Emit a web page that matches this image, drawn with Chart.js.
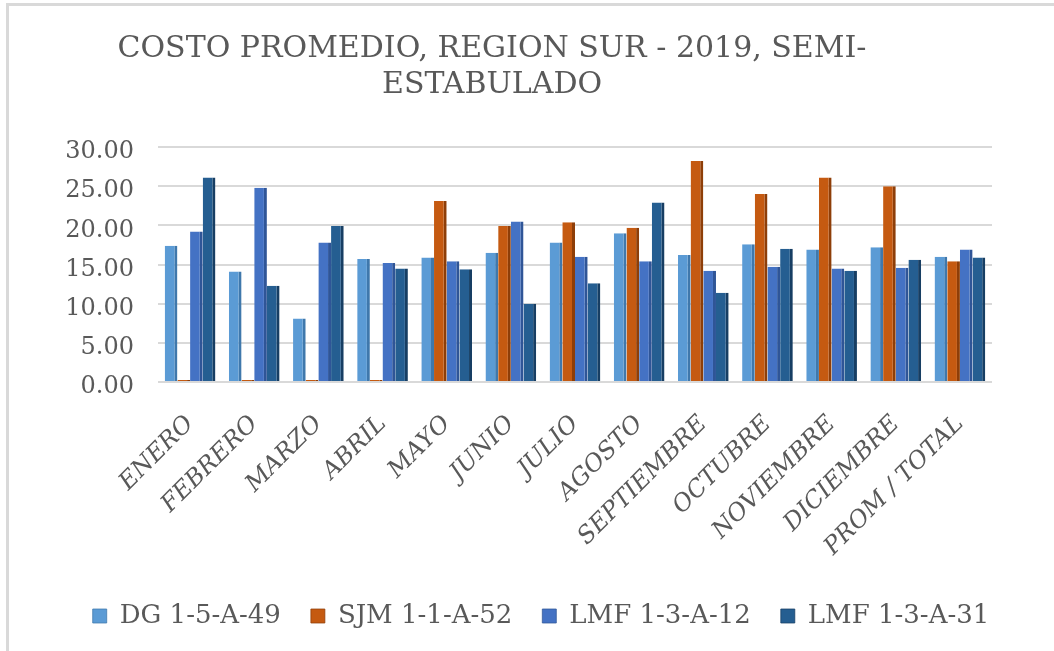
<!DOCTYPE html>
<html>
<head>
<meta charset="utf-8">
<script src="https://cdn.jsdelivr.net/npm/chart.js@4/dist/chart.umd.min.js"></script>
<style>
  html, body { margin: 0; padding: 0; background: #ffffff; }
  #wrap { position: relative; width: 1054px; height: 651px; overflow: hidden; }
  #frameL { position: absolute; left: 6px; top: 3px; width: 3px; height: 648px; background: #d9d9d9; }
  #frameT { position: absolute; left: 6px; top: 3px; width: 1048px; height: 3px; background: #d9d9d9; }
  canvas { position: absolute; left: 0; top: 0; }
</style>
</head>
<body>
<div id="wrap">
  <canvas id="c" width="1054" height="651"></canvas>
  <div id="frameL"></div>
  <div id="frameT"></div>
</div>
<script>
const titleLines = ["COSTO PROMEDIO, REGION SUR - 2019, SEMI-", "ESTABULADO"];
const categories = ["ENERO", "FEBRERO", "MARZO", "ABRIL", "MAYO", "JUNIO", "JULIO",
  "AGOSTO", "SEPTIEMBRE", "OCTUBRE", "NOVIEMBRE", "DICIEMBRE", "PROM / TOTAL"];
const seriesNames = ["DG 1-5-A-49", "SJM 1-1-A-52", "LMF 1-3-A-12", "LMF 1-3-A-31"];
const dg_1_5_A_49  = [17.4, 14.1, 8.1, 15.7, 15.9, 16.5, 17.8, 19.0, 16.2, 17.6, 16.9, 17.2, 16.0];
const sjm_1_1_A_52 = [0, 0, 0, 0, 23.1, 19.9, 20.4, 19.7, 28.2, 24.0, 26.1, 25.0, 15.4];
const lmf_1_3_A_12 = [19.2, 24.8, 17.8, 15.2, 15.4, 20.5, 16.0, 15.4, 14.2, 14.7, 14.5, 14.6, 16.9];
const lmf_1_3_A_31 = [26.1, 12.3, 19.9, 14.5, 14.4, 10.0, 12.6, 22.9, 11.4, 17.0, 14.2, 15.6, 15.9];
const yTicks = [0, 5, 10, 15, 20, 25, 30];

const fills = ["#5B9BD5", "#C55A11", "#4472C4", "#255E91"];
const sides = ["#3F78AC", "#8E3E08", "#2F5597", "#173E63"];
const seriesValues = [dg_1_5_A_49, sjm_1_1_A_52, lmf_1_3_A_12, lmf_1_3_A_31];

const textGray = "#595959";
const serif = "'DejaVu Serif', 'Liberation Serif', serif";

const shiftBlocks = {
  id: 'shiftBlocks',
  afterLayout(chart) {
    if (chart.titleBlock) { chart.titleBlock.right = chart.titleBlock.right - 18; }
    if (chart.legend) {
      chart.legend.left = chart.legend.left + 40;
      chart.legend.right = chart.legend.right + 40;
    }
  }
};

new Chart(document.getElementById('c'), {
  type: 'bar',
  data: {
    labels: categories,
    datasets: seriesNames.map((name, i) => ({
      label: name,
      data: seriesValues[i],
      backgroundColor: fills[i],
      borderColor: sides[i],
      borderWidth: { top: 0, left: 0, bottom: 0, right: 3 },
      borderSkipped: false,
      minBarLength: i === 1 ? 2 : 0,
      barPercentage: 1.0,
      categoryPercentage: 0.79
    }))
  },
  plugins: [shiftBlocks],
  options: {
    responsive: false,
    animation: false,
    devicePixelRatio: 1,
    layout: { padding: { left: 10, right: 62, top: 12, bottom: 12 } },
    plugins: {
      title: {
        display: true,
        text: titleLines,
        color: textGray,
        font: { family: serif, size: 30, weight: 'normal', lineHeight: 1.2 },
        padding: { top: 19, bottom: 44 }
      },
      legend: {
        position: 'bottom',
        labels: {
          color: textGray,
          font: { family: serif, size: 26 },
          boxWidth: 14,
          boxHeight: 14,
          padding: 30
        }
      },
      tooltip: { enabled: false }
    },
    scales: {
      x: {
        grid: { display: false },
        border: { display: false },
        ticks: {
          color: textGray,
          font: { family: serif, size: 24, style: 'italic' },
          minRotation: 45,
          maxRotation: 45,
          padding: 20
        },
        afterFit(scale) { scale.height = 191; }
      },
      y: {
        min: 0,
        max: 30,
        afterBuildTicks(scale) { scale.ticks = yTicks.map(v => ({ value: v })); },
        grid: { color: "#d9d9d9", lineWidth: 2, drawTicks: false },
        border: { display: false },
        ticks: {
          color: textGray,
          font: { family: serif, size: 24 },
          padding: 24,
          labelOffset: 5,
          callback: v => Number(v).toFixed(2)
        },
        afterFit(scale) { scale.width = 148; }
      }
    }
  }
});
</script>
</body>
</html>
